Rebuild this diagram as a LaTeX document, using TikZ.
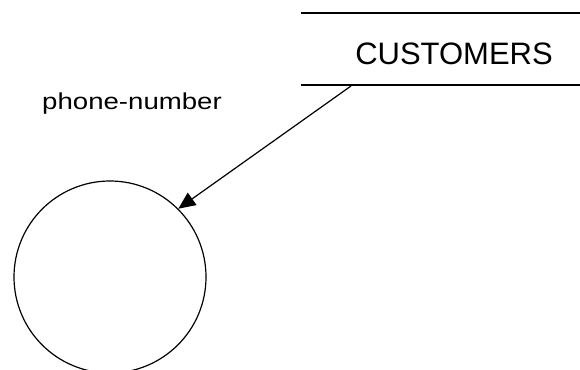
\documentclass[tikz,border=0pt]{standalone}
\usepackage{fontspec}
\setmainfont{Liberation Sans}
\usetikzlibrary{arrows.meta}
\tikzset{
  flowline/.style={draw=black, line width=1.2pt},
  proc/.style={circle, draw=black, line width=1.2pt, minimum size=192pt, inner sep=0pt},
  lbl/.style={inner sep=0pt, text=black},
}
\begin{document}
\begin{tikzpicture}[x=1pt,y=-1pt]
  \useasboundingbox (0,0) rectangle (580,369);
  % data store
  \coordinate (storeTL) at (301,13);
  \coordinate (storeTR) at (580,13);
  \coordinate (storeBL) at (301,85);
  \coordinate (storeBR) at (580,85);
  \draw[flowline] (storeTL) -- (storeTR);
  \draw[flowline] (storeBL) -- (storeBR);
  \node[lbl, font=\fontsize{31}{36}\selectfont] (cust) at (454,54) {CUSTOMERS};
  % process
  \node[proc] (p) at (110,277) {};
  % label
  \node[lbl, font=\fontsize{23}{28}\selectfont, xscale=1.2] (pn) at (132,104) {phone-number};
  % flow
  \coordinate (src) at (351,86);
  \draw[flowline, -{Triangle[length=17pt,width=15pt]}] (src) -- (p.45);
\end{tikzpicture}
\end{document}
